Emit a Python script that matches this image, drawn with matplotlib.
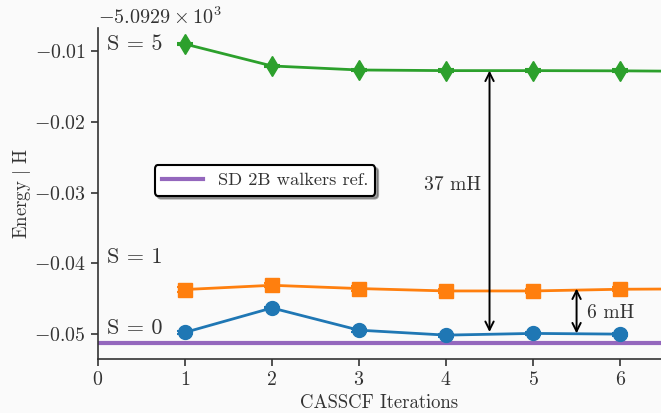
import matplotlib
matplotlib.use("Agg")
import matplotlib.pyplot as plt
from matplotlib.ticker import ScalarFormatter
import numpy as np

plt.rcParams['font.family'] = ['cmr10']
plt.rcParams['mathtext.fontset'] = 'cm'
plt.rcParams['axes.formatter.use_mathtext'] = True
plt.rcParams['text.color'] = '#333333'

offset = -5092.9
iters = [1, 2, 3, 4, 5, 6, 7]
s5 = [-0.00901, -0.01211, -0.01268, -0.01277, -0.01277, -0.0128, -0.01288]
s1 = [-0.0437, -0.0431, -0.04356, -0.0439, -0.0439, -0.04366, -0.0436]
iters0 = [1, 2, 3, 4, 5, 6]
s0 = [-0.04976, -0.0463, -0.04944, -0.05014, -0.0499, -0.0500]
err5 = [0.0002] * 7
err1 = [0.0003] * 7
err0 = [0.0002] * 6
ref_energy = -0.05131
gap37_x, gap6_x = 4.5, 5.5

bg = '#fafafa'
fig = plt.figure(figsize=(6.61, 4.13), dpi=100, facecolor=bg)
ax = fig.add_axes([0.148, 0.131, 0.852, 0.801], facecolor=bg)

E = lambda v: np.array(v) + offset

ax.errorbar(iters, E(s5), yerr=err5, color='#2ca02c', marker='d', ms=10, lw=2, capsize=6, elinewidth=1.5, capthick=1.5)
ax.errorbar(iters, E(s1), yerr=err1, color='#ff7f0e', marker='s', ms=10, lw=2, capsize=6, elinewidth=1.5, capthick=1.5)
ax.errorbar(iters0, E(s0), yerr=err0, color='#1f77b4', marker='o', ms=10, lw=2, capsize=6, elinewidth=1.5, capthick=1.5)
ax.axhline(ref_energy + offset, color='#9467bd', lw=3, label='SD 2B walkers ref.')

ax.annotate('', xy=(gap37_x, s5[4] + offset), xytext=(gap37_x, s0[4] + offset + 0.0002),
            arrowprops=dict(arrowstyle='<->', color='black', lw=1.4, shrinkA=0, shrinkB=0, mutation_scale=15))
ax.annotate('', xy=(gap6_x, s1[5] + offset + 0.0001), xytext=(gap6_x, s0[4] + offset),
            arrowprops=dict(arrowstyle='<->', color='black', lw=1.4, shrinkA=0, shrinkB=0, mutation_scale=15))
ax.text(4.4, -0.0289 + offset, '37 mH', fontsize=14, ha='right', va='center')
ax.text(5.62, -0.0470 + offset, '6 mH', fontsize=14, ha='left', va='center')

ax.text(0.1, -0.0090 + offset, 'S = 5', fontsize=16, ha='left', va='center')
ax.text(0.1, -0.0392 + offset, 'S = 1', fontsize=16, ha='left', va='center')
ax.text(0.1, -0.0492 + offset, 'S = 0', fontsize=16, ha='left', va='center')

ax.set_xlim(0, 6.47)
ax.set_ylim(-0.0535 + offset, -0.00676 + offset)
ax.set_xticks([0, 1, 2, 3, 4, 5, 6])
ax.set_yticks(E([-0.05, -0.04, -0.03, -0.02, -0.01]))
fmt = ScalarFormatter(useOffset=offset, useMathText=True)
ax.yaxis.set_major_formatter(fmt)
ax.yaxis.get_offset_text().set_fontsize(14.5)
ax.yaxis.get_offset_text().set_color('#333333')

ax.spines['top'].set_visible(False)
ax.spines['right'].set_visible(False)
for s in ['left', 'bottom']:
    ax.spines[s].set_color('#333333')
    ax.spines[s].set_linewidth(1.2)
ax.tick_params(labelsize=14.3, length=5, width=1.2, color='#333333', labelcolor='#333333')

ax.set_xlabel('CASSCF Iterations', fontsize=13.5, color='#333333', labelpad=4)
ax.set_ylabel(r'Energy $|$ H', fontsize=13.5, color='#333333', labelpad=1)

leg = ax.legend(loc='upper left', bbox_to_anchor=(0.101, 0.586), borderaxespad=0,
                fontsize=13.3, frameon=True, fancybox=True, shadow=True, handlelength=2.2,
                edgecolor='black', framealpha=1)
leg.get_frame().set_linewidth(1.5)

fig.savefig('out.png', dpi=100, facecolor=bg)
